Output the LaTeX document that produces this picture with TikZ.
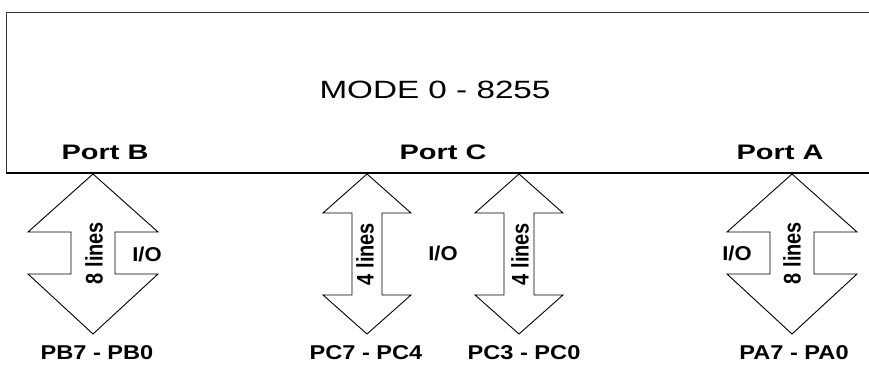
\documentclass[tikz,border=0pt]{standalone}
\usepackage{fontspec}
\setmainfont{Liberation Sans}
\usetikzlibrary{positioning}

\begin{document}
\begin{tikzpicture}[x=1pt, y=-1pt,
    title/.style={font=\fontsize{25}{25}\selectfont, xscale=1.33},
    portlbl/.style={font=\bfseries\fontsize{21}{21}\selectfont, xscale=1.38},
    pinlbl/.style={font=\bfseries\fontsize{20}{20}\selectfont, xscale=1.18},
    iolbl/.style={font=\bfseries\fontsize{20}{20}\selectfont, xscale=1.1},
    lineslbl/.style={font=\bfseries\fontsize{20}{20}\selectfont, rotate=90, yscale=1.2},
    busarrow/.style={draw, line width=0.9pt, line join=miter}]
    \useasboundingbox (0,0) rectangle (869,366);

    % The 8255 chip
    \draw[line width=0.8pt, black!80] (869,12) -- (6,12) -- (6,173);
    \draw[line width=1.2pt] (6,173) -- (869,173);
    \node[title] (mode) at (435,90) {MODE 0 - 8255};

    % Port names
    \node[portlbl] (portb) at (105,152) {Port B};
    \node[portlbl] (portc) at (443,152) {Port C};
    \node[portlbl] (porta) at (780,152) {Port A};

    % Bus arrows (x centre / head half width / shaft half width / head base / shaft end)
    \foreach \cx/\hh/\sh/\hb/\sb in {93/65/22/232/274, 367/44/15/213/295,
                                     519/44/15/213/295, 792/65/22/232/274} {
        \draw[busarrow] (\cx,174) -- (\cx+\hh,\hb) -- (\cx+\sh,\hb) -- (\cx+\sh,\sb)
            -- (\cx+\hh,\sb) -- (\cx,334) -- (\cx-\hh,\sb) -- (\cx-\sh,\sb)
            -- (\cx-\sh,\hb) -- (\cx-\hh,\hb) -- cycle;
    }

    % Line counts
    \node[lineslbl] (linesb) at (94,253) {8 lines};
    \node[lineslbl] (linesch) at (365,254) {4 lines};
    \node[lineslbl] (linescl) at (520,254) {4 lines};
    \node[lineslbl] (linesa) at (792,253) {8 lines};

    % Direction
    \node[iolbl] (iob) at (147,254) {I/O};
    \node[iolbl] (ioc) at (443,253) {I/O};
    \node[iolbl] (ioa) at (737,253) {I/O};

    % Pin names
    \node[pinlbl] (pinb) at (97,353) {PB7 - PB0};
    \node[pinlbl] (pinch) at (366,353) {PC7 - PC4};
    \node[pinlbl] (pincl) at (524,353) {PC3 - PC0};
    \node[pinlbl] (pina) at (794,353) {PA7 - PA0};
\end{tikzpicture}
\end{document}
